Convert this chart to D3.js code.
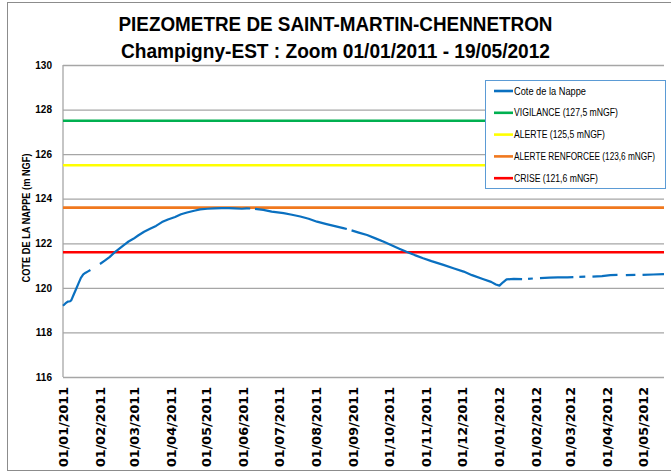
<!DOCTYPE html>
<html>
<head>
<meta charset="utf-8">
<script src="https://cdn.jsdelivr.net/npm/d3@7"></script>
<style>
  body { margin: 0; background: #fff; }
  svg { display: block; }
</style>
</head>
<body>
<div id="chart"></div>
<script>
// water table readings (null = missing data, gives a gap in the line)
const dates = [
  "2011-01-01", "2011-01-03", "2011-01-05", "2011-01-07", "2011-01-08", "2011-01-10",
  "2011-01-12", "2011-01-14", "2011-01-16", "2011-01-18", "2011-01-20", "2011-01-22",
  "2011-01-24", "2011-01-28", "2011-02-01", "2011-02-05", "2011-02-09", "2011-02-13",
  "2011-02-17", "2011-02-21", "2011-02-25", "2011-03-01", "2011-03-05", "2011-03-10",
  "2011-03-15", "2011-03-20", "2011-03-25", "2011-03-30", "2011-04-05", "2011-04-10",
  "2011-04-15", "2011-04-21", "2011-04-26", "2011-05-02", "2011-05-08", "2011-05-14",
  "2011-05-20", "2011-05-25", "2011-05-31", "2011-06-04", "2011-06-07", "2011-06-09",
  "2011-06-11", "2011-06-18", "2011-06-25", "2011-07-05", "2011-07-12", "2011-07-19",
  "2011-07-26", "2011-08-02", "2011-08-10", "2011-08-17", "2011-08-24", "2011-08-27",
  "2011-08-29", "2011-08-31", "2011-09-06", "2011-09-13", "2011-09-20", "2011-09-27",
  "2011-10-04", "2011-10-10", "2011-10-16", "2011-10-23", "2011-10-30", "2011-11-06",
  "2011-11-16", "2011-11-25", "2011-12-03", "2011-12-10", "2011-12-19", "2011-12-26",
  "2011-12-30", "2012-01-02", "2012-01-05", "2012-01-08", "2012-01-14", "2012-01-21",
  "2012-01-23", "2012-01-26", "2012-01-30", "2012-02-02", "2012-02-05", "2012-02-13",
  "2012-02-20", "2012-02-28", "2012-03-04", "2012-03-06", "2012-03-09", "2012-03-14",
  "2012-03-17", "2012-03-20", "2012-03-28", "2012-04-04", "2012-04-10", "2012-04-14",
  "2012-04-17", "2012-04-25", "2012-04-28", "2012-05-01", "2012-05-10", "2012-05-19"
];
const levels = [
  119.2, 119.3, 119.38, 119.4, 119.45, 119.7,
  119.95, 120.2, 120.45, 120.6, 120.68, 120.74,
  120.8, null, 121.07, 121.22, 121.38, 121.58,
  121.75, 121.92, 122.08, 122.2, 122.35, 122.52,
  122.65, 122.78, 122.95, 123.07, 123.18, 123.3,
  123.38, 123.46, 123.52, 123.55, 123.57, 123.58,
  123.58, 123.57, 123.55, 123.57, 123.56, null,
  123.54, 123.5, 123.42, 123.35, 123.28, 123.2,
  123.1, 122.97, 122.86, 122.77, 122.68, 122.64,
  null, 122.58, 122.48, 122.37, 122.22, 122.07,
  121.9, 121.76, 121.62, 121.47, 121.33, 121.2,
  121.03, 120.87, 120.73, 120.57, 120.4, 120.27,
  120.15, 120.1, 120.25, 120.38, 120.4, 120.39,
  null, 120.4, 120.42, null, 120.44, 120.46,
  120.47, 120.47, 120.48, null, 120.49, 120.5,
  null, 120.5, 120.53, 120.57, 120.58, null,
  120.57, 120.58, null, 120.58, 120.6, 120.62
];

// alert thresholds
const thresholdNames = [
  "VIGILANCE (127,5 mNGF)",
  "ALERTE (125,5  mNGF)",
  "ALERTE RENFORCEE (123,6 mNGF)",
  "CRISE (121,6 mNGF)"
];
const thresholdValues = [127.5, 125.5, 123.6, 121.6];
const thresholdColors = ["#00b050", "#ffff00", "#f0781e", "#ff0000"];

const seriesName = "Cote de la Nappe";
const seriesColor = "#0a70c0";

const yTicks = [116, 118, 120, 122, 124, 126, 128, 130];
const xTicks = [
  "2011-01-01", "2011-02-01", "2011-03-01", "2011-04-01", "2011-05-01", "2011-06-01",
  "2011-07-01", "2011-08-01", "2011-09-01", "2011-10-01", "2011-11-01", "2011-12-01",
  "2012-01-01", "2012-02-01", "2012-03-01", "2012-04-01", "2012-05-01"
];
const xStart = "2011-01-01";
const xEnd = "2012-05-19";

const titleLines = [
  "PIEZOMETRE DE SAINT-MARTIN-CHENNETRON",
  "Champigny-EST : Zoom 01/01/2011 - 19/05/2012"
];
const yTitle = "COTE DE LA NAPPE (m NGF)";

// chart dimensions
const chartWidth = 671;
const chartHeight = 476;
const margin = { top: 65, right: 7, bottom: 99, left: 63 };
const width = chartWidth - margin.left - margin.right;
const height = chartHeight - margin.top - margin.bottom;

const parseDate = d3.timeParse("%Y-%m-%d");
const formatDate = d3.timeFormat("%d/%m/%Y");

const root = d3
  .select("#chart")
  .append("svg")
  .attr("width", chartWidth)
  .attr("height", chartHeight);

// outer frame
root
  .append("rect")
  .attr("x", 7.5)
  .attr("y", 2.5)
  .attr("width", 670)
  .attr("height", 468)
  .attr("fill", "none")
  .attr("stroke", "#8c8c8c");

// title, squeezed to the width of the original Calibri text
const titleWidths = [434, 429];
const titleBaselines = [31, 58];
titleLines.forEach((t, i) => {
  root
    .append("text")
    .attr("x", chartWidth / 2)
    .attr("y", titleBaselines[i])
    .attr("text-anchor", "middle")
    .attr("textLength", titleWidths[i])
    .attr("lengthAdjust", "spacingAndGlyphs")
    .style("font-family", "Liberation Sans, Arial, sans-serif")
    .style("font-weight", "bold")
    .style("font-size", "21px")
    .text(t);
});

const svg = root
  .append("g")
  .attr("transform", `translate(${margin.left}, ${margin.top})`);

// scales
const x = d3
  .scaleTime()
  .domain([parseDate(xStart), parseDate(xEnd)])
  .range([0, width]);
const y = d3.scaleLinear().domain([116, 130]).range([height, 0]);

const data = dates.map((d, i) => ({ date: parseDate(d), value: levels[i] }));

// y axis + horizontal gridlines
const yAxis = svg
  .append("g")
  .attr("class", "y axis")
  .call(
    d3.axisLeft(y).tickValues(yTicks).tickSize(-width).tickPadding(11)
  );
yAxis.select(".domain").remove();
yAxis.selectAll(".tick line").attr("stroke", "#a6a6a6").attr("stroke-width", 1.3);
yAxis
  .selectAll(".tick text")
  .style("font-family", "Liberation Sans, Arial, sans-serif")
  .style("font-weight", "bold")
  .style("font-size", "10px")
  .attr("fill", "#000");

// left axis line
svg
  .append("line")
  .attr("x1", 0)
  .attr("x2", 0)
  .attr("y1", 0)
  .attr("y2", height)
  .attr("stroke", "#a6a6a6")
  .attr("stroke-width", 1.3);

// x axis with rotated date labels
const xAxis = svg
  .append("g")
  .attr("class", "x axis")
  .attr("transform", `translate(0, ${height})`)
  .call(
    d3
      .axisBottom(x)
      .tickValues(xTicks.map(parseDate))
      .tickFormat(formatDate)
      .tickSize(0)
  );
xAxis.select(".domain").remove();
xAxis
  .selectAll(".tick text")
  .attr("transform", "rotate(-90)")
  .attr("x", -10)
  .attr("y", 0)
  .attr("dy", "0.4em")
  .attr("text-anchor", "end")
  .attr("textLength", 80)
  .attr("lengthAdjust", "spacingAndGlyphs")
  .style("font-family", "DejaVu Sans, Verdana, sans-serif")
  .style("font-weight", "bold")
  .style("font-size", "12px")
  .attr("fill", "#000");

// y axis title
root
  .append("text")
  .attr("transform", `translate(30, ${margin.top + height / 2 - 3}) rotate(-90)`)
  .attr("text-anchor", "middle")
  .attr("textLength", 129)
  .attr("lengthAdjust", "spacingAndGlyphs")
  .style("font-family", "Liberation Sans, Arial, sans-serif")
  .style("font-weight", "bold")
  .style("font-size", "10px")
  .text(yTitle);

// threshold lines
svg
  .selectAll(".threshold")
  .data(thresholdValues)
  .enter()
  .append("line")
  .attr("class", "threshold")
  .attr("x1", 0)
  .attr("x2", width)
  .attr("y1", (d) => y(d))
  .attr("y2", (d) => y(d))
  .attr("stroke", (d, i) => thresholdColors[i])
  .attr("stroke-width", 2.6);

// water level line
const line = d3
  .line()
  .defined((d) => d.value !== null)
  .x((d) => x(d.date))
  .y((d) => y(d.value));

svg
  .append("path")
  .datum(data)
  .attr("d", line)
  .attr("fill", "none")
  .attr("stroke", seriesColor)
  .attr("stroke-width", 2.2)
  .attr("stroke-linejoin", "round");

// legend
const legendItems = [{ name: seriesName, color: seriesColor }].concat(
  thresholdNames.map((n, i) => ({ name: n, color: thresholdColors[i] }))
);
const legendWidths = [72, 104, 91, 141, 84];

const legend = root.append("g").attr("transform", "translate(485, 80)");
legend
  .append("rect")
  .attr("x", 0.5)
  .attr("y", 0.5)
  .attr("width", 180)
  .attr("height", 108)
  .attr("fill", "#fff")
  .attr("stroke", "#5b9bd5");

const rows = legend
  .selectAll(".item")
  .data(legendItems)
  .enter()
  .append("g")
  .attr("class", "item")
  .attr("transform", (d, i) => `translate(0, ${11 + i * 21.8})`);

rows
  .append("line")
  .attr("x1", 9)
  .attr("x2", 28)
  .attr("stroke", (d) => d.color)
  .attr("stroke-width", 2.6);

rows
  .append("text")
  .attr("x", 29)
  .attr("dy", "0.35em")
  .attr("textLength", (d, i) => legendWidths[i])
  .attr("lengthAdjust", "spacingAndGlyphs")
  .style("font-family", "Liberation Sans, Arial, sans-serif")
  .style("font-size", "10px")
  .text((d) => d.name);
</script>
</body>
</html>
